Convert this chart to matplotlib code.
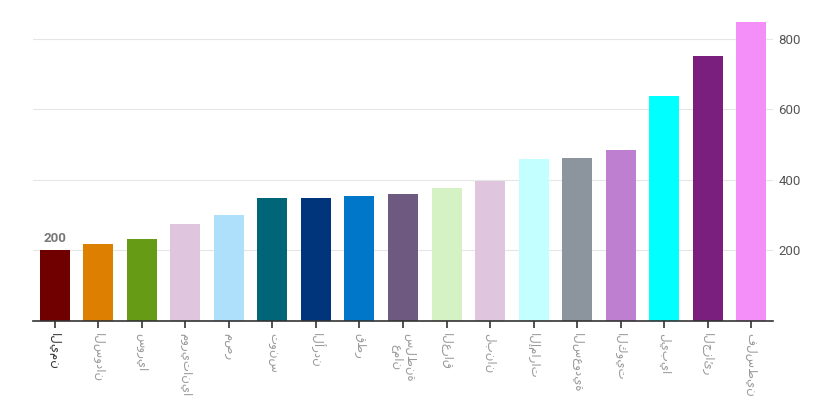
import matplotlib
matplotlib.use('Agg')
import matplotlib.pyplot as plt

# country labels and values
countries = ['اليمن', 'السودان', 'سوريا', 'موريتانيا', 'مصر', 'تونس', 'الأردن',
             'قطر', 'سلطنة\nعمان', 'العراق', 'لبنان', 'الإمارات', 'السعودية',
             'الكويت', 'ليبيا', 'الجزائر', 'فلسطين']
values = [200, 219, 234, 275, 301, 349, 350, 355, 361, 377, 398, 460, 462,
          485, 638, 752, 848]
colors = ['#700000', '#dd7f00', '#669b15', '#e0c5de', '#aee0fc', '#006577',
          '#00347b', '#0077c8', '#6e5a80', '#d4f2c4', '#e0c5de', '#c4ffff',
          '#8c949e', '#be7fd0', '#00ffff', '#7a1f7e', '#f48ff9']
yticks = [200, 400, 600, 800]

fig = plt.figure(figsize=(8.36, 3.97), dpi=100)
ax = fig.add_axes([33 / 836, 76 / 397, 740 / 836, 300 / 397])

x = list(range(len(countries)))
ax.bar(x, values, width=0.69, color=colors, zorder=2)
ax.set_xlim(-0.5, len(countries) - 0.5)
ax.set_ylim(0, 851)

ax.yaxis.tick_right()
ax.set_yticks(yticks)
ax.set_yticklabels([str(v) for v in yticks], fontsize=9.5, color='#555555',
                   family='Roboto')
ax.tick_params(axis='y', length=0, pad=4)
ax.grid(axis='y', color='#e6e6e6', linewidth=0.8, zorder=0)

ax.set_xticks(x)
ax.set_xticklabels(countries, rotation=270, fontsize=8.5, color='#999999',
                   family='DejaVu Sans', linespacing=1.0)
ax.get_xticklabels()[0].set_color('#333333')
ax.tick_params(axis='x', length=5, color='#333333', width=1.2)

for s in ['top', 'left', 'right']:
    ax.spines[s].set_visible(False)
ax.spines['bottom'].set_color('#333333')
ax.spines['bottom'].set_linewidth(1.2)

ax.annotate(str(values[0]), (0, values[0]), xytext=(0, 4),
            textcoords='offset points', ha='center', va='bottom',
            fontsize=9.5, fontweight='bold', color='#777777', family='Roboto')

fig.savefig('out.png', dpi=100)
